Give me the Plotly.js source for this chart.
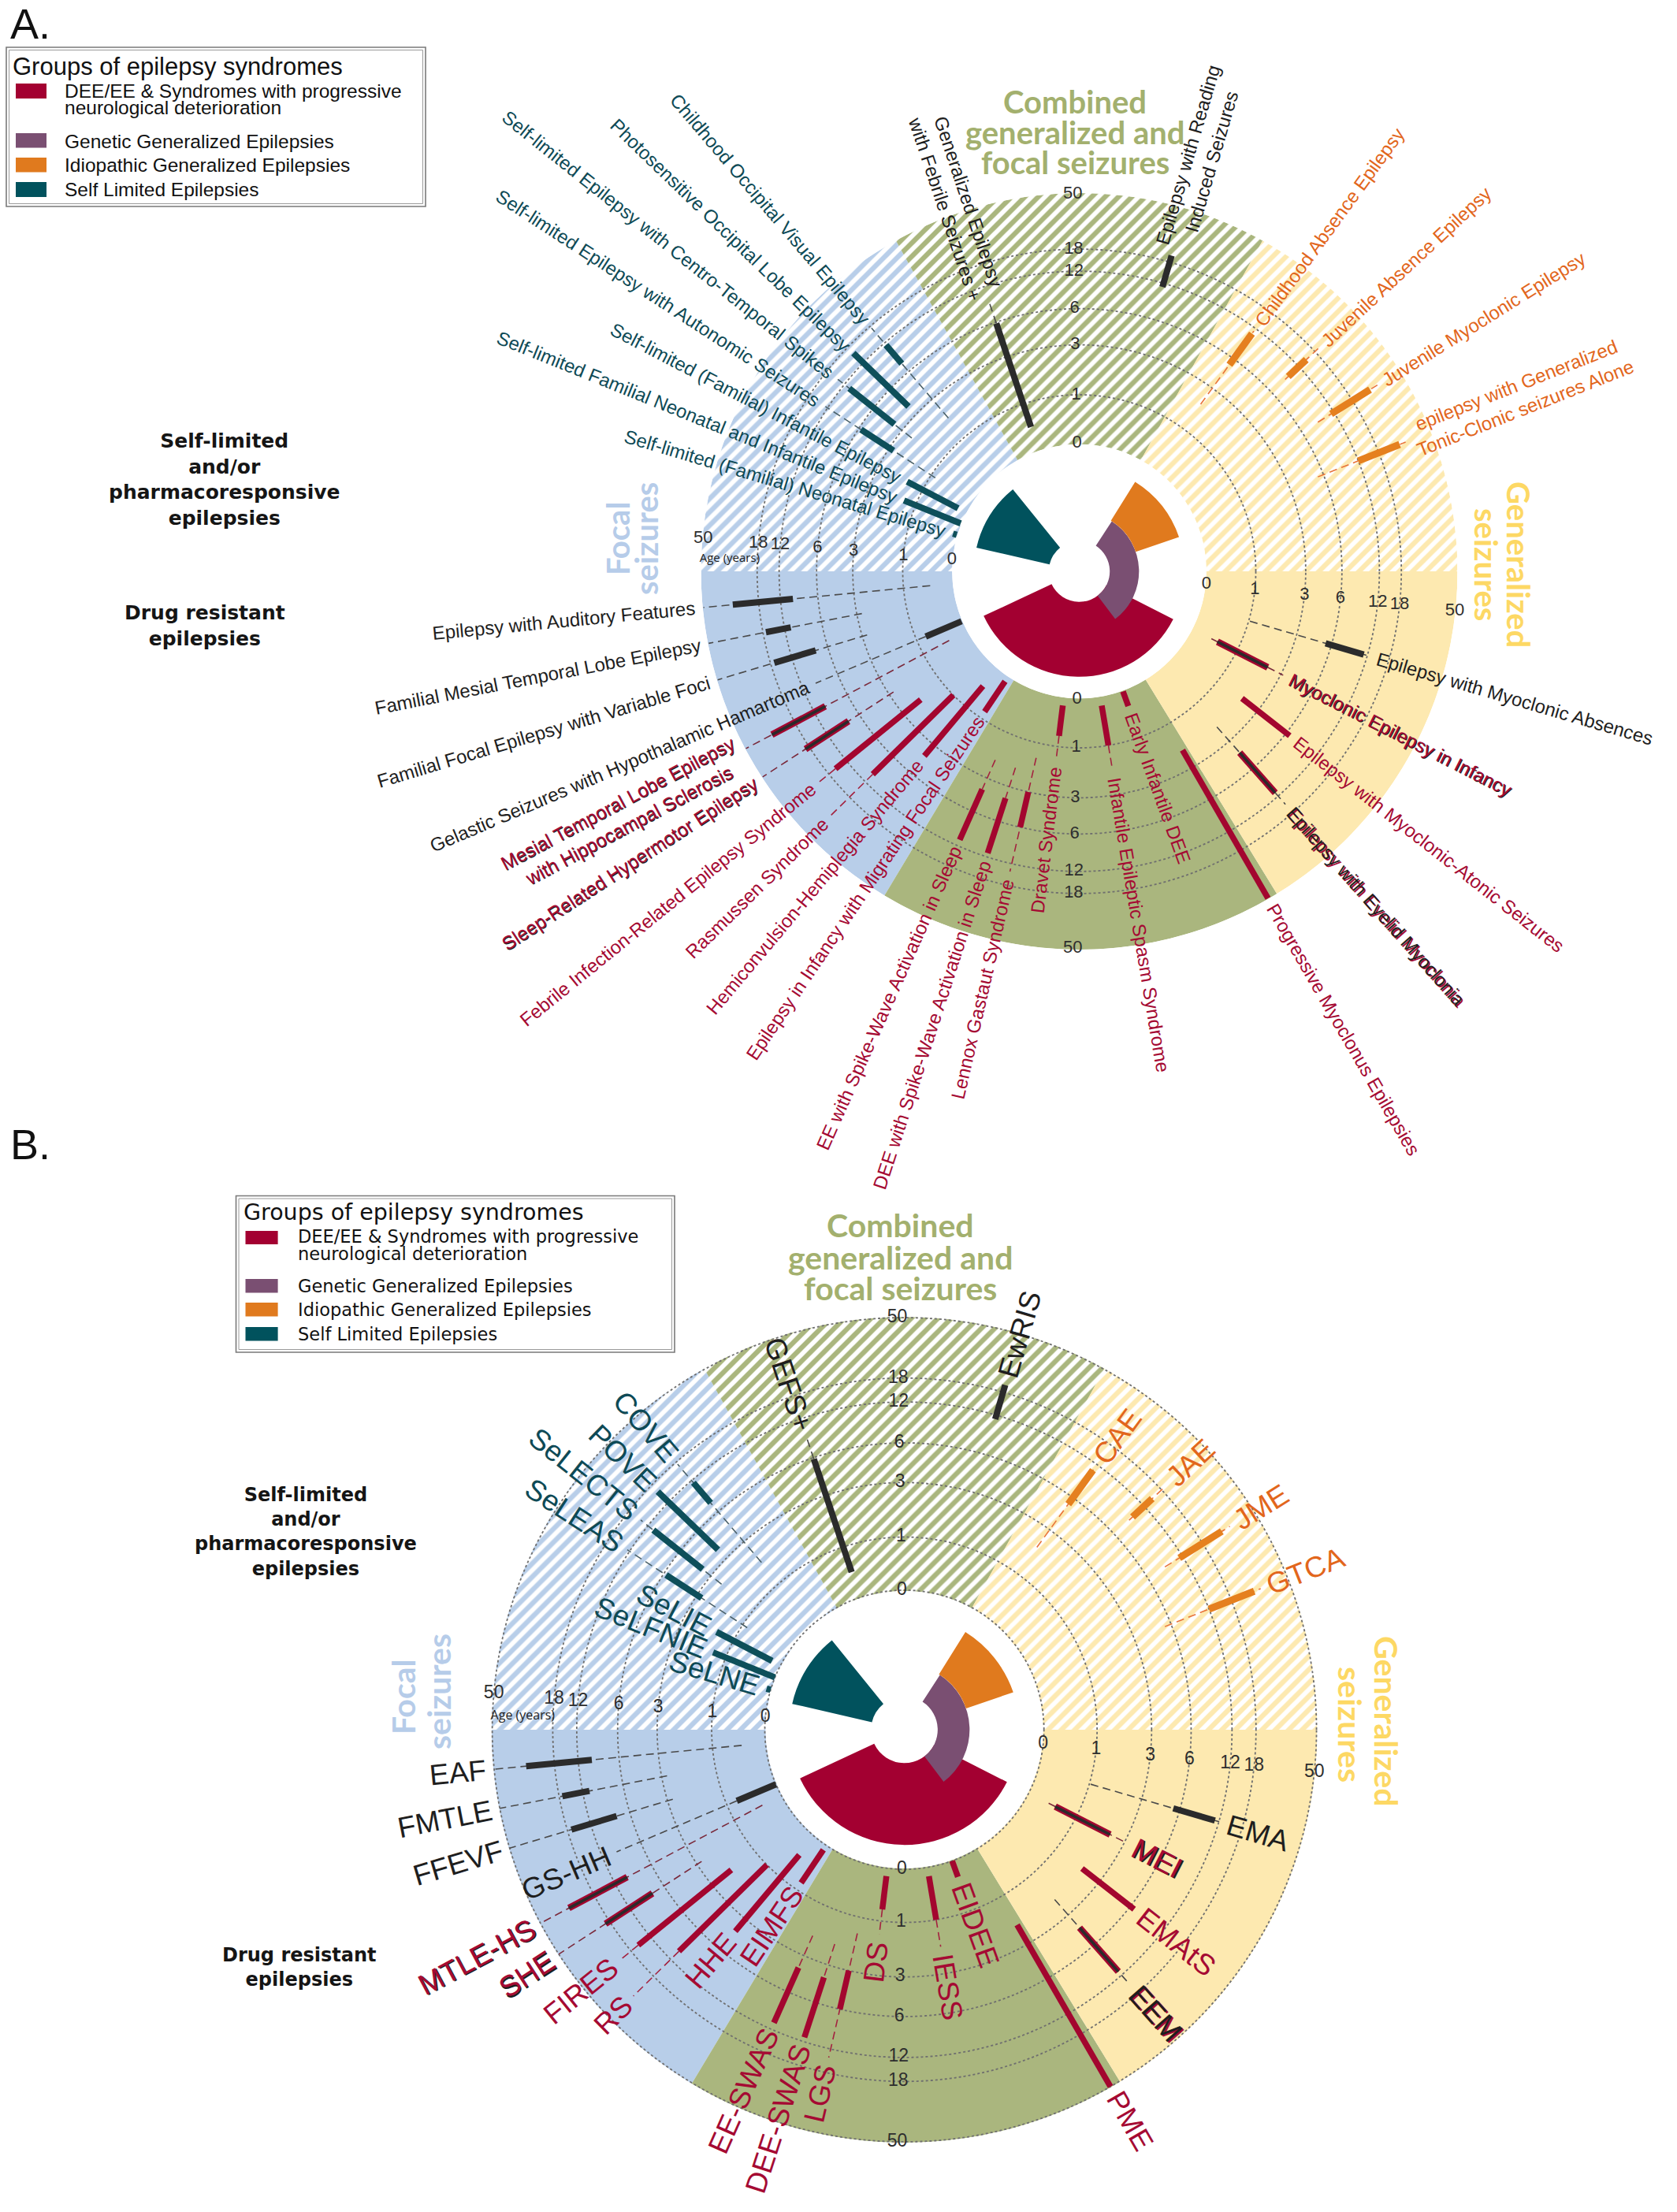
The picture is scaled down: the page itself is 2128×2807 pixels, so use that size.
<!DOCTYPE html>
<html>
<head>
<meta charset="utf-8">
<script src="https://cdn.plot.ly/plotly-3.0.1.min.js"></script>
<style>
html,body{margin:0;padding:0;background:#ffffff;}
#chart{width:2128px;height:2807px;}
</style>
</head>
<body>
<div id="chart"></div>
<script>
// ======================= DATA =======================
// radial axis: age in years
const ageTicks = [0, 1, 3, 6, 12, 18, 50];
const ageTickLabels = ['0', '1', '3', '6', '12', '18', '50'];

// groups of epilepsy syndromes (inner chart)
const groupLegendLines = [
  ['DEE/EE & Syndromes with progressive', 'neurological deterioration'],
  ['Genetic Generalized Epilepsies'],
  ['Idiopathic Generalized Epilepsies'],
  ['Self Limited Epilepsies']
];
const pieThetaStart = [117, 33, 32, 283];
const pieThetaEnd   = [245, 143, 71, 321];
const pieInner      = [0.24, 0.24, 0.47, 0.24];
const pieOuter      = [0.83, 0.47, 0.83, 0.83];

// seizure-type sectors (compass degrees, clockwise from top)
const seizureTypes    = ['Focal seizures', 'Combined generalized and focal seizures', 'Generalized seizures'];
const upperThetaStart = [270, 331, 29];
const upperThetaEnd   = [331, 389, 90];
const lowerThetaStart = [211, 148.5, 90];
const lowerThetaEnd   = [270, 211, 148.5];

// syndromes
const synAbbr = ['SeLNE','SeLFNIE','SeLIE','SeLEAS','SeLECTS','POVE','COVE','GEFS+','EwRIS',
  'CAE','JAE','JME','GTCA','EMA','MEI','EMAtS','EEM','PME','EIDEE','IESS','DS','LGS',
  'DEE-SWAS','EE-SWAS','EIMFS','HHE','RS','FIRES','SHE','MTLE-HS','GS-HH','FFEVF','FMTLE','EAF'];
const synName = [
  'Self-limited (Familial) Neonatal Epilepsy',
  'Self-limited Familial Neonatal and Infantile Epilepsy',
  'Self-limited (Familial) Infantile Epilepsy',
  'Self-limited Epilepsy with Autonomic Seizures',
  'Self-limited Epilepsy with Centro-Temporal Spikes',
  'Photosensitive Occipital Lobe Epilepsy',
  'Childhood Occipital Visual Epilepsy',
  'Generalized Epilepsy<br>with Febrile Seizures +',
  'Epilepsy with Reading<br>Induced Seizures',
  'Childhood Absence Epilepsy',
  'Juvenile Absence Epilepsy',
  'Juvenile Myoclonic Epilepsy',
  'epilepsy with Generalized<br>Tonic-Clonic seizures Alone',
  'Epilepsy with Myoclonic Absences',
  'Myoclonic Epilepsy in Infancy',
  'Epilepsy with Myoclonic-Atonic Seizures',
  'Epilepsy with Eyelid Myoclonia',
  'Progressive Myoclonus Epilepsies',
  'Early Infantile DEE',
  'Infantile Epileptic Spasm Syndrome',
  'Dravet Syndrome',
  'Lennox Gastaut Syndrome',
  'DEE with Spike-Wave Activation in Sleep',
  'EE with Spike-Wave Activation in Sleep',
  'Epilepsy in Infancy with Migrating Focal Seizures',
  'Hemiconvulsion-Hemiplegia Syndrome',
  'Rasmussen Syndrome',
  'Febrile Infection-Related Epilepsy Syndrome',
  'Sleep-Related Hypermotor Epilepsy',
  'Mesial Temporal Lobe Epilepsy<br>with Hippocampal Sclerosis',
  'Gelastic Seizures with Hypothalamic Hamartoma',
  'Familial Focal Epilepsy with Variable Foci',
  'Familial Mesial Temporal Lobe Epilepsy',
  'Epilepsy with Auditory Features'
];
// SL self-limited, OT other, IGE idiopathic generalized, DEE, MIX = DEE + other, MIXB = other + DEE
const synGroup = ['SL','SL','SL','SL','SL','SL','SL','OT','OT',
  'IGE','IGE','IGE','IGE','OT','MIX','DEE','MIXB','DEE','DEE','DEE','DEE','DEE',
  'DEE','DEE','DEE','DEE','DEE','DEE','MIX','MIX','OT','OT','OT','OT'];
const synTheta = [286.6, 292, 297.5, 303, 308.5, 314, 319.5, 341.5, 16.3,
  36, 47, 58, 68.4, 106.3, 117, 128, 138.5, 150, 160, 170.5, 187, 193,
  198, 204, 214, 220, 225.5, 231, 237, 242, 247, 253.3, 259, 264.5];
const synAgeStart = [0, 0, 0.18, 2.8, 3.8, 3.9, 7.7, 0.5, 11.4,
  5.4, 9.7, 11.5, 12, 5.5, 0.56, 2.2, 4.3, 2.2, 0, 0.17, 0.15, 3,
  4, 4, 0.1, 0.45, 1, 2.1, 8, 10, 0, 8, 11, 10];
const synAgeEnd = [0.08, 1.5, 1.7, 5.8, 11, 15.8, 11.6, 5.9, 22,
  11, 14.8, 30, 31, 11.4, 2.4, 6.7, 11.3, 50, 0.32, 1, 0.78, 6,
  11.4, 11, 0.85, 4.2, 10.3, 15.7, 20.5, 33, 0.8, 17, 17.2, 33];
const synDashFrom = [null, null, null, 0.9, 2.5, null, 2, 5.9, null,
  2.2, 9, 9, 5.5, 1.05, 0.42, null, 2.25, null, null, 1, 0.78, 1.6,
  2.2, 2.2, null, null, 10.3, 15.7, 2.8, 0.4, 0.8, 2.8, 2.8, 0.45];
const synDashTo = [null, null, null, 12.7, 14.3, null, 17.4, 9.2, null,
  11.5, 20.6, 35, 34.7, 12.4, 3.2, null, 15, null, null, 2, 1.5, 14.2,
  4, 4, null, null, 33, 25, 50, 50, 9.8, 50, 50, 50];

// ======================= SCALE / STYLE =======================
const W = 2128, H = 2807, HOLE = 0.336, RPAD = 0.003;
const RANGE = [-RPAD, 1 + RPAD];
const AGE_SCALE_POS = [0, 0.195, 0.395, 0.54, 0.69, 0.778, 1];
function ageToPos(a) {
  for (let k = 1; k < ageTicks.length; k++) {
    if (a <= ageTicks[k]) {
      const t = (a - ageTicks[k - 1]) / (ageTicks[k] - ageTicks[k - 1]);
      return AGE_SCALE_POS[k - 1] + t * (AGE_SCALE_POS[k] - AGE_SCALE_POS[k - 1]);
    }
  }
  return 1;
}

const COL = {
  sector: ['#b8cee9', '#aab67e', '#fde9b0'],
  title: ['#b6cce9', '#a3b06e', '#fdd864'],
  pie: ['#a30031', '#7a4f72', '#e07a1e', '#01525d'],
  line: {SL: '#0e4f5a', OT: '#2b2b2b', IGE: '#e5801f', DEE: '#a3062f'},
  text: {SL: '#0e4a56', OT: '#1e1e1e', IGE: '#e2661c', DEE: '#a50a33'},
  dash: {SL: '#4a6068', OT: '#4a4a4a', IGE: '#e8743a', DEE: '#a3223f', MIX: '#7a2a3c', MIXB: '#4a4a4a'}
};
const SANS = '"Liberation Sans", Arial, sans-serif';

const panels = [
  {cx: 1369.5, cy: 725, R: 480, ids: ['polar', 'polar2', 'polar3'], names: synName,
   labelSize: 24, tickSize: 22, ageSize: 15, gap: 8, shadow: 1.1,
   titleSize: 40,
   combined: [[1364, 129], [1364, 168], [1364, 206]],
   focal: [[784, 684], [820, 684]], general: [[1927, 716], [1886, 716]],
   leftTop: [285, 608], leftBottom: [260, 794], leftSize: 25,
   letter: ['A.', 38, 30],
   legend: {box: [8, 60, 540, 262], fam: SANS, titleX: 14, titleY: 84, titleSize: 31,
     sqX: [20, 59], sqY: [[106, 125], [169, 187.5], [200, 218.6], [231, 250]],
     textX: 80, textY: [[115.5, 137], [179], [209.6], [240.7]], itemSize: 24.5}},
  {cx: 1147.6, cy: 2195, R: 524, ids: ['polar4', 'polar5', 'polar6'], names: synAbbr,
   labelSize: 37, tickSize: 23, ageSize: 16, gap: 8, shadow: 1.5,
   titleSize: 41,
   combined: [[1142, 1554], [1142, 1595], [1142, 1634]],
   focal: [[511, 2153], [556, 2147]], general: [[1760, 2184], [1714, 2188]],
   leftTop: [388, 1944], leftBottom: [380, 2496], leftSize: 24,
   letter: ['B.', 38, 1452],
   legend: {box: [299.5, 1517.5, 856, 1716], fam: '"DejaVu Sans", sans-serif', titleX: 307, titleY: 1538.6, titleSize: 28.5,
     sqX: [311.5, 352.6], sqY: [[1562, 1579], [1623, 1640.4], [1653, 1670.5], [1684, 1701.4]],
     textX: 376, textY: [[1569, 1591], [1632], [1662], [1693]], itemSize: 22.5}}
];

const measureCtx = document.createElement('canvas').getContext('2d');
function textWidth(str, size, family) {
  measureCtx.font = size + 'px ' + family;
  return Math.max.apply(null, str.split('<br>').map(s => measureCtx.measureText(s).width));
}
const px = x => x / W;
const py = y => 1 - y / H;

const traces = [], annotations = [], shapes = [];
const layout = {
  width: W, height: H, margin: {l: 0, r: 0, t: 0, b: 0},
  paper_bgcolor: '#ffffff', plot_bgcolor: '#ffffff', showlegend: false, dragmode: false,
  font: {family: SANS}
};

function ann(x, y, text, size, color, family, extra) {
  annotations.push(Object.assign({
    x: px(x), y: py(y), xref: 'paper', yref: 'paper', text: text, showarrow: false,
    xanchor: 'center', yanchor: 'middle', font: {family: family || SANS, size: size, color: color}
  }, extra || {}));
}

panels.forEach(P => {
  P.r0 = P.R * HOLE;
  const posToRad = p => P.r0 + (p - RANGE[0]) / (RANGE[1] - RANGE[0]) * (P.R - P.r0);
  const dom = {x: [px(P.cx - P.R), px(P.cx + P.R)], y: [py(P.cy + P.R), py(P.cy - P.R)]};
  const domIn = {x: [px(P.cx - P.r0), px(P.cx + P.r0)], y: [py(P.cy + P.r0), py(P.cy - P.r0)]};
  const angular = () => ({rotation: 90, direction: 'clockwise', showgrid: false, showticklabels: false, ticks: '', showline: false});
  layout[P.ids[0]] = {domain: dom, hole: HOLE, bgcolor: 'rgba(0,0,0,0)',
    radialaxis: {range: RANGE, showgrid: false, showticklabels: false, ticks: '', showline: false},
    angularaxis: angular()};
  layout[P.ids[1]] = {domain: dom, hole: HOLE, bgcolor: 'rgba(0,0,0,0)',
    radialaxis: {range: RANGE, tickmode: 'array', tickvals: ageTicks.map(ageToPos), showgrid: true,
      griddash: 'dot', gridcolor: '#6f6f6f', gridwidth: 1.8, showticklabels: false, ticks: '', showline: false},
    angularaxis: angular()};
  layout[P.ids[2]] = {domain: domIn, hole: 0, bgcolor: 'rgba(0,0,0,0)',
    radialaxis: {range: [0, 1], visible: false}, angularaxis: angular()};

  // ---- background sectors ----
  seizureTypes.forEach((s, k) => {
    traces.push({type: 'barpolar', subplot: P.ids[0], name: s,
      r: [RANGE[1] - RANGE[0]], base: [RANGE[0]],
      theta: [(upperThetaStart[k] + upperThetaEnd[k]) / 2], width: [upperThetaEnd[k] - upperThetaStart[k]],
      marker: {color: COL.sector[k], line: {width: 0},
        pattern: {shape: '/', fgcolor: '#ffffff', bgcolor: COL.sector[k], size: 12, solidity: 0.48}},
      hoverinfo: 'skip', showlegend: false});
    traces.push({type: 'barpolar', subplot: P.ids[0], name: s,
      r: [RANGE[1] - RANGE[0]], base: [RANGE[0]],
      theta: [(lowerThetaStart[k] + lowerThetaEnd[k]) / 2], width: [lowerThetaEnd[k] - lowerThetaStart[k]],
      marker: {color: COL.sector[k], line: {width: 0}},
      hoverinfo: 'skip', showlegend: false});
  });

  // ---- inner chart of groups ----
  groupLegendLines.forEach((g, k) => {
    traces.push({type: 'barpolar', subplot: P.ids[2], name: g.join(' '),
      r: [pieOuter[k] - pieInner[k]], base: [pieInner[k]],
      theta: [(pieThetaStart[k] + pieThetaEnd[k]) / 2], width: [pieThetaEnd[k] - pieThetaStart[k]],
      marker: {color: COL.pie[k], line: {width: 0}}, hoverinfo: 'skip', showlegend: false});
  });

  // ---- dashed guides ----
  const dashKeys = ['SL', 'OT', 'IGE', 'DEE', 'MIX', 'MIXB'];
  dashKeys.forEach(key => {
    const r = [], t = [];
    synGroup.forEach((g, i) => {
      if (g === key && synDashFrom[i] !== null) {
        r.push(ageToPos(synDashFrom[i]), ageToPos(synDashTo[i]), null);
        t.push(synTheta[i], synTheta[i], null);
      }
    });
    if (r.length) traces.push({type: 'scatterpolar', subplot: P.ids[1], mode: 'lines', r: r, theta: t,
      line: {color: COL.dash[key], width: 1.6, dash: '10px,6px'}, connectgaps: false,
      hoverinfo: 'skip', showlegend: false, cliponaxis: false});
  });

  // ---- age segments ----
  function segs(keys, color, width) {
    const r = [], t = [];
    synGroup.forEach((g, i) => {
      if (keys.indexOf(g) >= 0) {
        r.push(ageToPos(synAgeStart[i]), ageToPos(synAgeEnd[i]), null);
        t.push(synTheta[i], synTheta[i], null);
      }
    });
    traces.push({type: 'scatterpolar', subplot: P.ids[1], mode: 'lines', r: r, theta: t,
      line: {color: color, width: width}, connectgaps: false, hoverinfo: 'skip', showlegend: false, cliponaxis: false});
  }
  segs(['SL'], COL.line.SL, 8);
  segs(['OT'], COL.line.OT, 8);
  segs(['IGE'], COL.line.IGE, 9);
  segs(['DEE'], COL.line.DEE, 7.5);
  segs(['MIX', 'MIXB'], COL.line.DEE, 8.5);
  segs(['MIX', 'MIXB'], COL.line.OT, 3.6);

  // ---- radial tick labels in four directions ----
  [359, 181, 275, 96].forEach(th => {
    traces.push({type: 'scatterpolar', subplot: P.ids[1], mode: 'text',
      r: ageTicks.map(ageToPos), theta: ageTicks.map(() => th), text: ageTickLabels,
      textposition: 'middle center', textfont: {family: SANS, size: P.tickSize, color: '#2e2e2e'},
      hoverinfo: 'skip', showlegend: false, cliponaxis: false});
  });
  traces.push({type: 'scatterpolar', subplot: P.ids[1], mode: 'text',
    r: [ageToPos(34)], theta: [272], text: ['Age (years)'],
    textposition: 'middle center', textfont: {family: '"Open Sans", sans-serif', size: P.ageSize, color: '#222222'},
    hoverinfo: 'skip', showlegend: false, cliponaxis: false});

  // ---- syndrome labels ----
  synGroup.forEach((g, i) => {
    const th = synTheta[i];
    const startAge = Math.max(synAgeEnd[i], synDashTo[i] === null ? 0 : synDashTo[i]);
    const rIn = posToRad(ageToPos(startAge)) + P.gap;
    const txt = P.names[i];
    const len = textWidth(txt, P.labelSize, SANS);
    const rc = rIn + len / 2 + 2;
    const a = th * Math.PI / 180;
    const x = P.cx + rc * Math.sin(a), y = P.cy - rc * Math.cos(a);
    const ang = th < 180 ? th - 90 : th - 270;
    const opts = {textangle: ang};
    if (g === 'MIX' || g === 'MIXB') {
      const shadow = g === 'MIX' ? COL.text.OT : COL.text.DEE;
      const top = g === 'MIX' ? COL.text.DEE : COL.text.OT;
      ann(x + P.shadow, y + P.shadow, txt, P.labelSize, shadow, SANS, opts);
      ann(x, y, txt, P.labelSize, top, SANS, opts);
    } else {
      ann(x, y, txt, P.labelSize, COL.text[g], SANS, opts);
    }
  });

  // ---- sector titles ----
  const tf = {family: 'Lato, sans-serif', size: P.titleSize, weight: 700};
  ['Combined', 'generalized and', 'focal seizures'].forEach((s, k) =>
    annotations.push({x: px(P.combined[k][0]), y: py(P.combined[k][1]), xref: 'paper', yref: 'paper', text: s,
      showarrow: false, xanchor: 'center', yanchor: 'middle', font: Object.assign({color: COL.title[1]}, tf)}));
  ['Focal', 'seizures'].forEach((s, k) =>
    annotations.push({x: px(P.focal[k][0]), y: py(P.focal[k][1]), xref: 'paper', yref: 'paper', text: s, textangle: -90,
      showarrow: false, xanchor: 'center', yanchor: 'middle', font: Object.assign({color: COL.title[0]}, tf)}));
  ['Generalized', 'seizures'].forEach((s, k) =>
    annotations.push({x: px(P.general[k][0]), y: py(P.general[k][1]), xref: 'paper', yref: 'paper', text: s, textangle: 90,
      showarrow: false, xanchor: 'center', yanchor: 'middle', font: Object.assign({color: COL.title[2]}, tf)}));

  // ---- left annotations ----
  const lf = {family: '"DejaVu Sans", sans-serif', size: P.leftSize, color: '#151515', weight: 700};
  annotations.push({x: px(P.leftTop[0]), y: py(P.leftTop[1]), xref: 'paper', yref: 'paper',
    text: 'Self-limited<br>and/or<br>pharmacoresponsive<br>epilepsies', showarrow: false, align: 'center',
    xanchor: 'center', yanchor: 'middle', font: lf});
  annotations.push({x: px(P.leftBottom[0]), y: py(P.leftBottom[1]), xref: 'paper', yref: 'paper',
    text: 'Drug resistant<br>epilepsies', showarrow: false, align: 'center',
    xanchor: 'center', yanchor: 'middle', font: lf});
  ann(P.letter[1], P.letter[2], P.letter[0], 54, '#111111', SANS);

  // ---- legend box ----
  const L = P.legend;
  shapes.push({type: 'rect', xref: 'paper', yref: 'paper', x0: px(L.box[0]), x1: px(L.box[2]), y0: py(L.box[1]), y1: py(L.box[3]),
    line: {color: '#7a7a7a', width: 1.6}, fillcolor: '#ffffff'});
  shapes.push({type: 'rect', xref: 'paper', yref: 'paper', x0: px(L.box[0] + 3.5), x1: px(L.box[2] - 3.5), y0: py(L.box[1] + 3.5), y1: py(L.box[3] - 3.5),
    line: {color: '#9a9a9a', width: 1}});
  annotations.push({x: px(L.titleX), y: py(L.titleY), xref: 'paper', yref: 'paper', text: 'Groups of epilepsy syndromes',
    showarrow: false, xanchor: 'left', yanchor: 'middle', font: {family: L.fam, size: L.titleSize, color: '#111111'}});
  groupLegendLines.forEach((lines, k) => {
    shapes.push({type: 'rect', xref: 'paper', yref: 'paper', x0: px(L.sqX[0]), x1: px(L.sqX[1]),
      y0: py(L.sqY[k][0]), y1: py(L.sqY[k][1]), line: {width: 0}, fillcolor: COL.pie[k]});
    lines.forEach((s, j) => annotations.push({x: px(L.textX), y: py(L.textY[k][j]), xref: 'paper', yref: 'paper', text: s,
      showarrow: false, xanchor: 'left', yanchor: 'middle', font: {family: L.fam, size: L.itemSize, color: '#111111'}}));
  });
});

layout.annotations = annotations;
layout.shapes = shapes;
Plotly.newPlot('chart', traces, layout, {staticPlot: true, displayModeBar: false});
</script>
</body>
</html>
